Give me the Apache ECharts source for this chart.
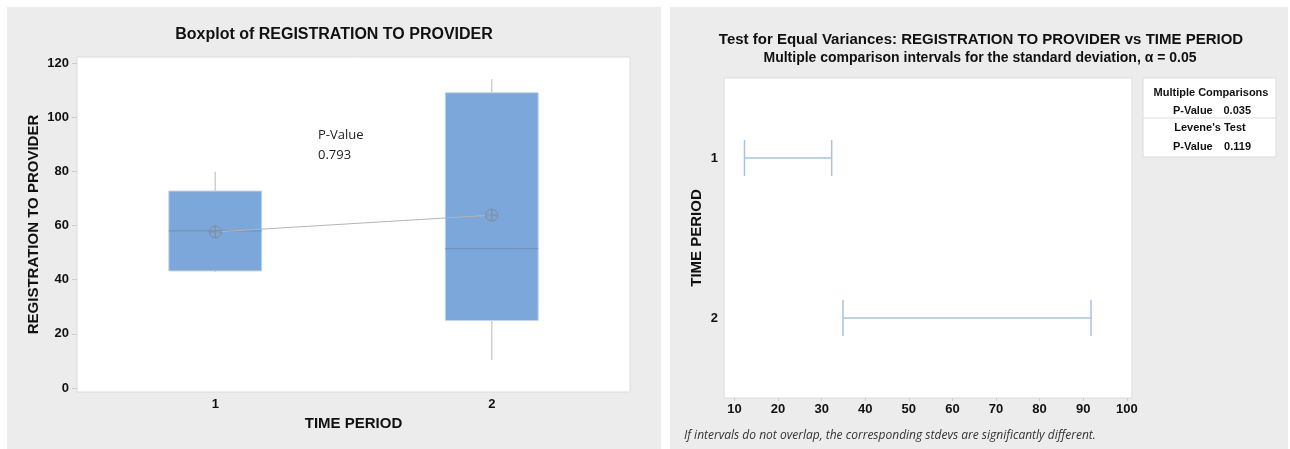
<!DOCTYPE html>
<html lang="en">

<head>
    <meta charset="UTF-8">
    <title>Boxplot and Test for Equal Variances</title>
    <style>
        html, body { margin: 0; padding: 0; background: #fff; }
        #chart { width: 1290px; height: 449px; }
    </style>
</head>

<body>
    <div id="chart"></div>

    <script src="https://cdn.jsdelivr.net/npm/echarts@6/dist/echarts.min.js"></script>
    <script>
        // ---------------- data ----------------
        var periods = ['1', '2'];
        var whiskerLow = [42.8, 10.3];
        var q1 = [43.2, 24.9];
        var medians = [58.0, 51.4];
        var q3 = [72.7, 109.0];
        var whiskerHigh = [79.8, 114.0];
        var means = [57.6, 63.8];
        var yTicks = [0, 20, 40, 60, 80, 100, 120];

        // stdev comparison intervals
        var intervalLow = [12.3, 34.9];
        var intervalHigh = [32.3, 91.8];
        var xTicks = [10, 20, 30, 40, 50, 60, 70, 80, 90, 100];

        var boldFont = '"Liberation Sans", Arial, sans-serif';
        var plainFont = '"Open Sans", "Noto Sans", sans-serif';

        var chart = echarts.init(document.getElementById('chart'));

        var boxData = periods.map(function (p, i) {
            return [i, whiskerLow[i], q1[i], medians[i], q3[i], whiskerHigh[i]];
        });
        var intervalData = periods.map(function (p, i) {
            return [intervalLow[i], intervalHigh[i], i];
        });

        function renderBox(params, api) {
            var idx = api.value(0);
            var bandW = api.size([1, 0])[0];
            var half = bandW * 0.168;
            var lo = api.coord([idx, api.value(1)]);
            var b1 = api.coord([idx, api.value(2)]);
            var med = api.coord([idx, api.value(3)]);
            var b3 = api.coord([idx, api.value(4)]);
            var hi = api.coord([idx, api.value(5)]);
            var x = lo[0];
            return {
                type: 'group',
                children: [
                    { type: 'line', shape: { x1: x, y1: hi[1], x2: x, y2: b3[1] }, style: { stroke: '#cfcfcf', lineWidth: 1.5 } },
                    { type: 'line', shape: { x1: x, y1: b1[1], x2: x, y2: lo[1] }, style: { stroke: '#cfcfcf', lineWidth: 1.5 } },
                    { type: 'rect', shape: { x: x - half, y: b3[1], width: half * 2, height: b1[1] - b3[1] }, style: { fill: '#7ba7da', stroke: '#c4d3e6', lineWidth: 1 } },
                    { type: 'line', shape: { x1: x - half, y1: med[1], x2: x + half, y2: med[1] }, style: { stroke: '#6d8fb9', lineWidth: 1 } }
                ]
            };
        }

        function renderInterval(params, api) {
            var a = api.coord([api.value(0), api.value(2)]);
            var b = api.coord([api.value(1), api.value(2)]);
            var cap = 18;
            var st = { stroke: '#a6c3e4', lineWidth: 1.5 };
            return {
                type: 'group',
                children: [
                    { type: 'line', shape: { x1: a[0], y1: a[1], x2: b[0], y2: b[1] }, style: st },
                    { type: 'line', shape: { x1: a[0], y1: a[1] - cap, x2: a[0], y2: a[1] + cap }, style: st },
                    { type: 'line', shape: { x1: b[0], y1: b[1] - cap, x2: b[0], y2: b[1] + cap }, style: st }
                ]
            };
        }

        var meanSymbol = 'path://M0,-6A6,6,0,1,1,0,6A6,6,0,1,1,0,-6ZM-6,0L6,0M0,-6L0,6';

        option = {
            backgroundColor: '#fff',
            animation: false,
            graphic: [
                // panel backgrounds
                { type: 'rect', z: -10, shape: { x: 7, y: 7, width: 654, height: 442 }, style: { fill: '#ececec' } },
                { type: 'rect', z: -10, shape: { x: 670, y: 7, width: 618, height: 442 }, style: { fill: '#ececec' } },
                // titles
                { type: 'text', z: 100, x: 334, y: 35, style: { text: 'Boxplot of REGISTRATION TO PROVIDER', font: 'bold 16px ' + boldFont, fill: '#111', align: 'center', verticalAlign: 'middle' } },
                { type: 'text', z: 100, x: 981, y: 40, style: { text: 'Test for Equal Variances: REGISTRATION TO PROVIDER vs TIME PERIOD', font: 'bold 15px ' + boldFont, fill: '#111', align: 'center', verticalAlign: 'middle' } },
                { type: 'text', z: 100, x: 980, y: 58, style: { text: 'Multiple comparison intervals for the standard deviation, α = 0.05', font: 'bold 14px ' + boldFont, fill: '#111', align: 'center', verticalAlign: 'middle' } },
                // p-value note inside the boxplot
                { type: 'text', z: 100, x: 318, y: 135, style: { text: 'P-Value', font: '13px ' + plainFont, fill: '#222', verticalAlign: 'middle' } },
                { type: 'text', z: 100, x: 318, y: 155, style: { text: '0.793', font: '13px ' + plainFont, fill: '#222', verticalAlign: 'middle' } },
                // results box
                { type: 'rect', z: 50, shape: { x: 1143, y: 78, width: 133, height: 79 }, style: { fill: '#fff', stroke: '#dcdcdc', lineWidth: 1 } },
                { type: 'line', z: 51, shape: { x1: 1143, y1: 118, x2: 1276, y2: 118 }, style: { stroke: '#dcdcdc', lineWidth: 1 } },
                { type: 'text', z: 100, x: 1211, y: 93, style: { text: 'Multiple Comparisons', font: 'bold 11px ' + boldFont, fill: '#111', align: 'center', verticalAlign: 'middle' } },
                { type: 'text', z: 100, x: 1173, y: 111, style: { text: 'P-Value', font: 'bold 11px ' + boldFont, fill: '#111', verticalAlign: 'middle' } },
                { type: 'text', z: 100, x: 1251, y: 111, style: { text: '0.035', font: 'bold 11px ' + boldFont, fill: '#111', align: 'right', verticalAlign: 'middle' } },
                { type: 'text', z: 100, x: 1210, y: 128, style: { text: "Levene's Test", font: 'bold 11px ' + boldFont, fill: '#111', align: 'center', verticalAlign: 'middle' } },
                { type: 'text', z: 100, x: 1173, y: 147, style: { text: 'P-Value', font: 'bold 11px ' + boldFont, fill: '#111', verticalAlign: 'middle' } },
                { type: 'text', z: 100, x: 1251, y: 147, style: { text: '0.119', font: 'bold 11px ' + boldFont, fill: '#111', align: 'right', verticalAlign: 'middle' } },
                // footnote
                { type: 'text', z: 100, x: 684, y: 436, style: { text: 'If intervals do not overlap, the corresponding stdevs are significantly different.', font: 'italic 12px ' + plainFont, fill: '#333', verticalAlign: 'middle' } }
            ],
            grid: [
                { left: 77, top: 57, width: 553, height: 335, show: true, backgroundColor: '#fff', borderColor: '#dcdcdc', borderWidth: 1 },
                { left: 724, top: 78, width: 408, height: 320, show: true, backgroundColor: '#fff', borderColor: '#dcdcdc', borderWidth: 1 }
            ],
            xAxis: [
                {
                    gridIndex: 0,
                    type: 'category',
                    data: periods,
                    boundaryGap: true,
                    name: 'TIME PERIOD',
                    nameLocation: 'middle',
                    nameGap: 24,
                    nameTextStyle: { fontFamily: boldFont, fontWeight: 'bold', fontSize: 15, color: '#111' },
                    axisLine: { show: false },
                    axisTick: { alignWithLabel: true, length: 3, lineStyle: { color: '#ccc' } },
                    axisLabel: { fontFamily: boldFont, fontWeight: 'bold', fontSize: 13, color: '#111', margin: 6 }
                },
                {
                    gridIndex: 1,
                    type: 'value',
                    min: 7.6,
                    max: 101.2,
                    splitLine: { show: false },
                    axisLine: { show: false },
                    axisTick: { show: true, length: 3, lineStyle: { color: '#ccc' }, customValues: xTicks },
                    axisLabel: { fontFamily: boldFont, fontWeight: 'bold', fontSize: 13, color: '#111', margin: 5, customValues: xTicks }
                }
            ],
            yAxis: [
                {
                    gridIndex: 0,
                    type: 'value',
                    min: -1.5,
                    max: 122.2,
                    name: 'REGISTRATION TO PROVIDER',
                    nameLocation: 'middle',
                    nameRotate: 90,
                    nameGap: 36,
                    nameTextStyle: { fontFamily: boldFont, fontWeight: 'bold', fontSize: 15, color: '#111' },
                    splitLine: { show: false },
                    axisLine: { show: false },
                    axisTick: { show: true, length: 5, lineStyle: { color: '#ccc' }, customValues: yTicks },
                    axisLabel: { fontFamily: boldFont, fontWeight: 'bold', fontSize: 13, color: '#111', margin: 8, customValues: yTicks }
                },
                {
                    gridIndex: 1,
                    type: 'category',
                    data: periods,
                    inverse: true,
                    name: 'TIME PERIOD',
                    nameLocation: 'middle',
                    nameRotate: 90,
                    nameGap: 20,
                    nameTextStyle: { fontFamily: boldFont, fontWeight: 'bold', fontSize: 15, color: '#111' },
                    axisLine: { show: false },
                    axisTick: { alignWithLabel: true, length: 4, lineStyle: { color: '#ccc' } },
                    axisLabel: { fontFamily: boldFont, fontWeight: 'bold', fontSize: 13, color: '#111', margin: 6 }
                }
            ],
            series: [
                {
                    type: 'custom',
                    xAxisIndex: 0,
                    yAxisIndex: 0,
                    renderItem: renderBox,
                    data: boxData,
                    z: 2
                },
                {
                    type: 'line',
                    xAxisIndex: 0,
                    yAxisIndex: 0,
                    data: means,
                    symbol: meanSymbol,
                    symbolSize: 12,
                    lineStyle: { color: '#b5b5b5', width: 1 },
                    itemStyle: { color: 'rgba(0,0,0,0)', borderColor: '#8a8a8a', borderWidth: 1 },
                    z: 5
                },
                {
                    type: 'custom',
                    xAxisIndex: 1,
                    yAxisIndex: 1,
                    renderItem: renderInterval,
                    data: intervalData,
                    z: 2
                }
            ]
        };

        chart.setOption(option, true);
    </script>
</body>

</html>
